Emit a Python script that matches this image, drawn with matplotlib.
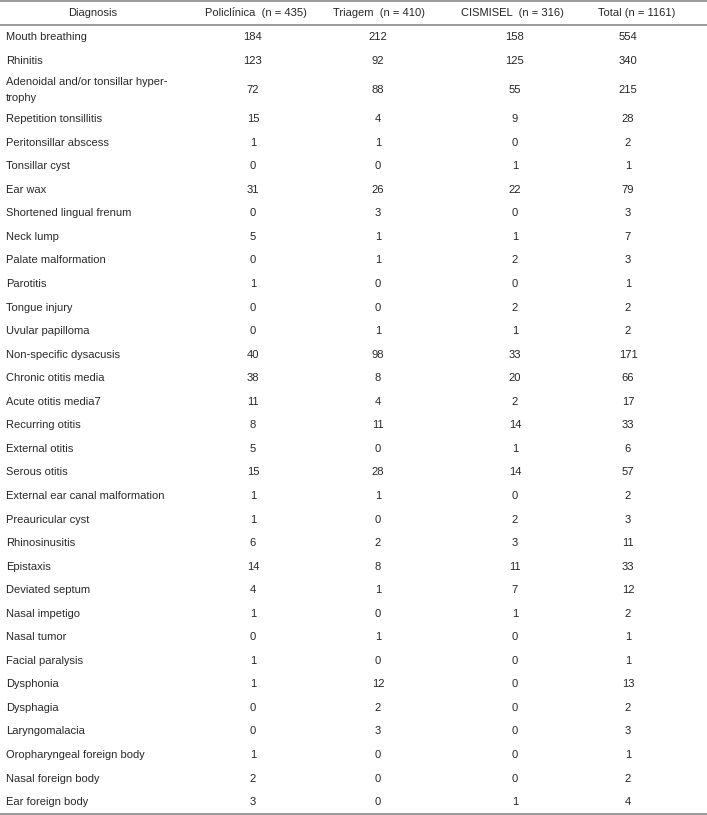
import matplotlib.pyplot as plt

plt.rcParams['text.hinting'] = 'native'

# Table data
headers = ['Diagnosis', 'Policlínica  (n = 435)', 'Triagem  (n = 410)',
           'CISMISEL  (n = 316)', 'Total (n = 1161)']
diagnoses = ['Mouth breathing', 'Rhinitis',
             'Adenoidal and/or tonsillar hyper-\ntrophy',
             'Repetition tonsillitis', 'Peritonsillar abscess', 'Tonsillar cyst',
             'Ear wax', 'Shortened lingual frenum', 'Neck lump',
             'Palate malformation', 'Parotitis', 'Tongue injury',
             'Uvular papilloma', 'Non-specific dysacusis', 'Chronic otitis media',
             'Acute otitis media7', 'Recurring otitis', 'External otitis',
             'Serous otitis', 'External ear canal malformation',
             'Preauricular cyst', 'Rhinosinusitis', 'Epistaxis',
             'Deviated septum', 'Nasal impetigo', 'Nasal tumor',
             'Facial paralysis', 'Dysphonia', 'Dysphagia', 'Laryngomalacia',
             'Oropharyngeal foreign body', 'Nasal foreign body',
             'Ear foreign body']
policlinica = [184, 123, 72, 15, 1, 0, 31, 0, 5, 0, 1, 0, 0, 40, 38, 11, 8, 5,
               15, 1, 1, 6, 14, 4, 1, 0, 1, 1, 0, 0, 1, 2, 3]
triagem = [212, 92, 88, 4, 1, 0, 26, 3, 1, 1, 0, 0, 1, 98, 8, 4, 11, 0, 28, 1,
           0, 2, 8, 1, 0, 1, 0, 12, 2, 3, 0, 0, 0]
cismisel = [158, 125, 55, 9, 0, 1, 22, 0, 1, 2, 0, 2, 1, 33, 20, 2, 14, 1, 14,
            0, 2, 3, 11, 7, 1, 0, 0, 0, 0, 0, 0, 0, 1]
total = [554, 340, 215, 28, 2, 1, 79, 3, 7, 3, 1, 2, 2, 171, 66, 17, 33, 6, 57,
         2, 3, 11, 33, 12, 2, 1, 1, 13, 2, 3, 1, 2, 4]

W, H = 707, 815
fig = plt.figure(figsize=(W / 100, H / 100), dpi=100)
ax = fig.add_axes([0, 0, 1, 1])
ax.set_xlim(0, W)
ax.set_ylim(H, 0)
ax.axis('off')

font = dict(family=['Liberation Sans', 'DejaVu Sans'], size=8, color='#262626')
line_kw = dict(color='#9a9a9a', lw=1.4)

header_x = [93, 256, 379, 512, 637]
value_x = [253, 378, 515, 628]

ax.axhline(1, **line_kw)
for x, h in zip(header_x, headers):
    ax.text(x, 13, h, ha='center', va='center', **font)
ax.axhline(25, **line_kw)

single_h = 23.55
double_h = 34.8
y = 25.5
cols = list(zip(policlinica, triagem, cismisel, total))
for name, vals in zip(diagnoses, cols):
    rh = double_h if '\n' in name else single_h
    yc = y + rh / 2
    ax.text(6, yc, name, ha='left', va='center', linespacing=1.75, **font)
    for x, v in zip(value_x, vals):
        ax.text(x, yc, str(v), ha='center', va='center', **font)
    y += rh

ax.axhline(814, **line_kw)

fig.savefig('out.png', dpi=100)
